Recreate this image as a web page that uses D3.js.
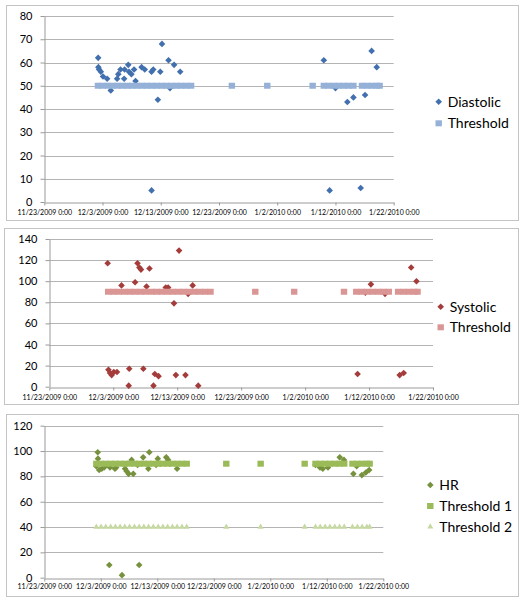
<!DOCTYPE html>
<html><head><meta charset="utf-8">
<script src="https://cdn.jsdelivr.net/npm/d3@7"></script>
<style>body{margin:0;background:#fff;} text{font-family:Lato,'Open Sans',sans-serif;}</style>
</head><body><svg id="c" width="523" height="600"></svg>
<script>
// ---------- data ----------
const xTickDates = ["2009-11-23 00:00","2009-12-03 00:00","2009-12-13 00:00","2009-12-23 00:00","2010-01-02 00:00","2010-01-12 00:00","2010-01-22 00:00"];
const xTickLabels = ["11/23/2009 0:00","12/3/2009 0:00","12/13/2009 0:00","12/23/2009 0:00","1/2/2010 0:00","1/12/2010 0:00","1/22/2010 0:00"];

const diastolicDates = ["2009-12-02 06:00","2009-12-02 07:00","2009-12-02 10:00","2009-12-02 17:00","2009-12-03 02:00","2009-12-03 19:00","2009-12-04 10:00","2009-12-05 12:00","2009-12-05 17:00","2009-12-06 02:00","2009-12-06 17:00","2009-12-06 19:00","2009-12-07 10:00","2009-12-07 13:00","2009-12-07 23:00","2009-12-08 10:00","2009-12-08 16:00","2009-12-09 17:00","2009-12-10 06:00","2009-12-11 10:00","2009-12-11 10:00","2009-12-11 17:00","2009-12-12 12:00","2009-12-12 22:00","2009-12-13 05:00","2009-12-14 08:00","2009-12-14 14:00","2009-12-15 07:00","2009-12-16 08:00","2010-01-10 00:00","2010-01-11 00:00","2010-01-12 00:00","2010-01-14 01:00","2010-01-15 02:00","2010-01-16 08:00","2010-01-17 02:00","2010-01-18 05:00","2010-01-19 02:00"];
const diastolicValues = [62,58,57,56,54,53,48,53,55,57,53,57,59,56,55,57,52,58,57,56,5,57,44,56,68,61,49,59,56,61,5,49,43,45,6,46,65,58];

const systolicDates = ["2009-12-02 03:00","2009-12-02 06:00","2009-12-02 12:00","2009-12-02 18:00","2009-12-03 02:00","2009-12-03 14:00","2009-12-04 07:00","2009-12-05 10:00","2009-12-05 12:00","2009-12-06 10:00","2009-12-06 19:00","2009-12-07 02:00","2009-12-07 08:00","2009-12-07 17:00","2009-12-08 05:00","2009-12-08 16:00","2009-12-09 07:00","2009-12-09 12:00","2009-12-10 02:00","2009-12-11 05:00","2009-12-11 14:00","2009-12-12 12:00","2009-12-12 19:00","2009-12-13 07:00","2009-12-14 07:00","2009-12-14 17:00","2009-12-15 10:00","2009-12-16 07:00","2010-01-10 05:00","2010-01-11 10:00","2010-01-12 07:00","2010-01-14 12:00","2010-01-16 19:00","2010-01-17 10:00","2010-01-18 14:00","2010-01-19 10:00"];
const systolicValues = [117,16,13,11,14,14,96,1,17,99,117,113,111,17,95,112,1,12,10,94,94,79,11,129,11,88,96,1,12,89,97,88,11,13,113,100];

const hrDates = ["2009-12-02 11:00","2009-12-02 12:00","2009-12-02 05:00","2009-12-02 17:00","2009-12-03 04:00","2009-12-03 14:00","2009-12-04 00:00","2009-12-04 15:00","2009-12-04 12:00","2009-12-05 12:00","2009-12-05 17:00","2009-12-06 18:00","2009-12-07 07:00","2009-12-07 14:00","2009-12-07 22:00","2009-12-08 11:00","2009-12-08 18:00","2009-12-09 12:00","2009-12-09 19:00","2009-12-10 12:00","2009-12-11 10:00","2009-12-11 14:00","2009-12-12 19:00","2009-12-13 02:00","2009-12-13 12:00","2009-12-14 14:00","2009-12-14 22:00","2009-12-15 05:00","2009-12-16 12:00","2010-01-10 00:00","2010-01-10 19:00","2010-01-11 07:00","2010-01-12 05:00","2010-01-14 07:00","2010-01-15 01:00","2010-01-16 17:00","2010-01-17 07:00","2010-01-18 05:00","2010-01-18 22:00","2010-01-19 12:00"];
const hrValues = [99,94,88,85,86,87,89,87,10,86,87,2,86,84,82,93,82,89,10,95,86,99,89,94,90,95,93,90,86,89,87,86,87,95,93,82,88,81,83,85];

const thresholdDates = ["2009-12-02 05:00","2009-12-03 01:00","2009-12-03 21:00","2009-12-04 18:00","2009-12-05 14:00","2009-12-06 10:00","2009-12-07 06:00","2009-12-08 02:00","2009-12-08 23:00","2009-12-09 19:00","2009-12-10 15:00","2009-12-11 11:00","2009-12-12 07:00","2009-12-13 04:00","2009-12-14 00:00","2009-12-14 20:00","2009-12-15 16:00","2009-12-16 12:00","2009-12-17 09:00","2009-12-18 05:00","2009-12-25 05:00","2009-12-31 07:00","2010-01-08 02:00","2010-01-10 00:00","2010-01-10 20:00","2010-01-11 17:00","2010-01-12 13:00","2010-01-13 10:00","2010-01-14 06:00","2010-01-15 02:00","2010-01-16 13:00","2010-01-17 10:00","2010-01-18 06:00","2010-01-19 02:00","2010-01-19 14:00"];
const diastolicThreshold = 50;
const systolicThreshold = 90;
const hrThreshold1 = 90;
const hrThreshold2 = 40;

// ---------- drawing ----------
const parse = d3.timeParse("%Y-%m-%d %H:%M");
const svg = d3.select("#c");

function marker(g, type, x, y, color) {
  if (type === "diamond") {
    const s = 3.3;
    g.append("path").attr("d", `M${x},${y-s}L${x+s},${y}L${x},${y+s}L${x-s},${y}Z`).attr("fill", color);
  } else if (type === "square") {
    g.append("rect").attr("x", x-3.2).attr("y", y-3).attr("width", 6.4).attr("height", 6).attr("fill", color);
  } else {
    g.append("path").attr("transform", `translate(${x},${y})`)
      .attr("d", d3.symbol().type(d3.symbolTriangle).size(16)()).attr("fill", color);
  }
}

function panel(cfg) {
  svg.append("rect").attr("x", cfg.box[0]+0.5).attr("y", cfg.box[1]+0.5).attr("width", cfg.box[2]).attr("height", cfg.box[3])
    .attr("fill", "#fff").attr("stroke", "#c4c4c4").attr("stroke-width", 1);
  const x = d3.scaleTime().domain([parse(xTickDates[0]), parse(xTickDates[xTickDates.length-1])]).range([cfg.left, cfg.right]);
  const y = d3.scaleLinear().domain([0, cfg.yMax]).range([cfg.bottom, cfg.top]);
  const g = svg.append("g");
  const yTicks = d3.range(0, cfg.yMax + 1, cfg.yStep);
  g.selectAll(".grid").data(yTicks.slice(1)).join("line")
    .attr("x1", cfg.left).attr("x2", cfg.right)
    .attr("y1", d => Math.round(y(d))+0.5).attr("y2", d => Math.round(y(d))+0.5)
    .attr("stroke", "#b4b4b4").attr("stroke-width", 1);
  const ya = g.append("g").attr("transform", `translate(${Math.round(cfg.left)+0.5},0)`)
    .call(d3.axisLeft(y).tickValues(yTicks).tickSize(4).tickPadding(8).tickSizeOuter(0));
  ya.select(".domain").attr("stroke", "#9a9a9a");
  ya.selectAll(".tick line").attr("stroke", "#9a9a9a");
  ya.selectAll("text").attr("font-size", 11).attr("fill", "#000").attr("font-family", "Lato");
  const xa = g.append("g").attr("transform", `translate(0,${Math.round(cfg.bottom)+0.5})`)
    .call(d3.axisBottom(x).tickValues(xTickDates.map(parse)).tickFormat((d,i) => xTickLabels[i]).tickSize(3).tickPadding(cfg.xPad).tickSizeOuter(0));
  xa.select(".domain").attr("stroke", "#9a9a9a");
  xa.selectAll(".tick line").attr("stroke", "#9a9a9a");
  xa.selectAll("text").attr("font-size", 7).attr("fill", "#000").attr("font-family", "Lato");
  cfg.series.forEach(s => {
    const sg = g.append("g");
    s.dates.forEach((d, i) => {
      const v = Array.isArray(s.values) ? s.values[i] : s.values;
      marker(sg, s.type, x(parse(d)), y(v), s.color);
    });
  });
  const lg = svg.append("g");
  cfg.series.forEach((s, i) => {
    const ly = cfg.legY[i];
    marker(lg, s.type, cfg.legX, ly, s.color);
    lg.append("text").attr("x", cfg.legX + 9).attr("y", ly).attr("dy", "0.35em")
      .attr("font-size", 14).attr("fill", "#000").text(s.name);
  });
}

panel({
  box: [6, 5, 512, 215], left: 44.3, right: 393.7, top: 16, bottom: 202, yMax: 80, yStep: 10, xPad: 4.5,
  legX: 438.7, legY: [101.7, 123.3],
  series: [
    {name: "Diastolic", type: "diamond", color: "#4270ae", dates: diastolicDates, values: diastolicValues},
    {name: "Threshold", type: "square", color: "#95b1d8", dates: thresholdDates, values: diastolicThreshold}
  ]
});
panel({
  box: [4, 228, 514, 176], left: 49.3, right: 433, top: 239, bottom: 386.7, yMax: 140, yStep: 20, xPad: 4.5,
  legX: 440.7, legY: [306.7, 327.3],
  series: [
    {name: "Systolic", type: "diamond", color: "#a33c3b", dates: systolicDates, values: systolicValues},
    {name: "Threshold", type: "square", color: "#d99694", dates: thresholdDates, values: systolicThreshold}
  ]
});
panel({
  box: [6, 414, 512, 182], left: 44.3, right: 383.3, top: 425.7, bottom: 577.7, yMax: 120, yStep: 20, xPad: 3,
  legX: 430.3, legY: [485, 506, 526.7],
  series: [
    {name: "HR", type: "diamond", color: "#76923c", dates: hrDates, values: hrValues},
    {name: "Threshold 1", type: "square", color: "#9bbb59", dates: thresholdDates, values: hrThreshold1},
    {name: "Threshold 2", type: "triangle", color: "#c6d9a2", dates: thresholdDates, values: hrThreshold2}
  ]
});
</script></body></html>
